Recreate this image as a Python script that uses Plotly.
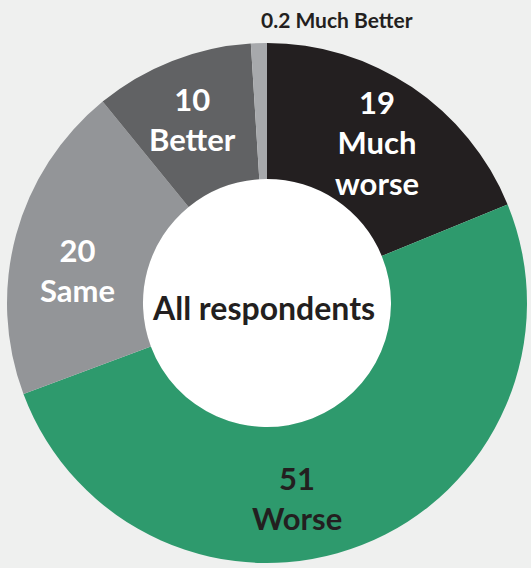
import plotly.graph_objects as go

labels = ["Much worse", "Worse", "Same", "Better", "Much Better"]
values = [19, 51, 20, 10, 0.2]
colors = ["#231f20", "#2e9a6d", "#939598", "#616264", "#a7a9ac"]
label_text = ["19<br>Much<br>worse", "51<br>Worse", "20<br>Same", "10<br>Better", "0.2 Much Better"]
text_colors = ["#ffffff", "#231f20", "#ffffff", "#ffffff", "#231f20"]
center_title = "All respondents"
MIN_SLICE = 1.0  # the original draws tiny shares with a minimum visible width

drawn = [max(v, MIN_SLICE) for v in values]

W, H = 531, 568
CX, CY, R, HOLE = 267, 303, 260, 0.477
fig = go.Figure(go.Pie(
    labels=labels, values=drawn, sort=False, direction="clockwise", rotation=0,
    hole=HOLE, marker=dict(colors=colors, line=dict(width=0)),
    textinfo="none", hoverinfo="none", showlegend=False,
    domain=dict(x=[(CX - R) / W, (CX + R) / W], y=[1 - (CY + R) / H, 1 - (CY - R) / H]),
))

r_in = R * HOLE
fig.add_shape(type="circle", xref="paper", yref="paper",
              x0=(CX - r_in) / W, x1=(CX + r_in) / W, y0=1 - (CY + r_in) / H, y1=1 - (CY - r_in) / H,
              fillcolor="#ffffff", line=dict(width=0), layer="below")

# label centre positions (pixels, top-left origin)
pos = [(377, 142), (297, 498), (77, 270), (192, 119), (337, 20)]
sizes = [31, 31, 31, 31, 21]
annots = []
for (px, py), t, c, s in zip(pos, label_text, text_colors, sizes):
    annots.append(dict(x=px / W, y=1 - py / H, xref="paper", yref="paper", text="<b>" + t + "</b>",
                       showarrow=False, font=dict(family="Lato", size=s, color=c),
                       xanchor="center", yanchor="middle"))
annots.append(dict(x=263 / W, y=1 - 307 / H, xref="paper", yref="paper", text="<b>" + center_title + "</b>",
                   showarrow=False, font=dict(family="Lato", size=32, color="#231f20"),
                   xanchor="center", yanchor="middle"))

fig.update_layout(width=W, height=H, margin=dict(l=0, r=0, t=0, b=0),
                  paper_bgcolor="#eff0ef", plot_bgcolor="#eff0ef", annotations=annots)
fig.write_html("out.html", config={"displayModeBar": False},
               post_script="document.body.style.margin='0';document.body.style.overflow='hidden';")
